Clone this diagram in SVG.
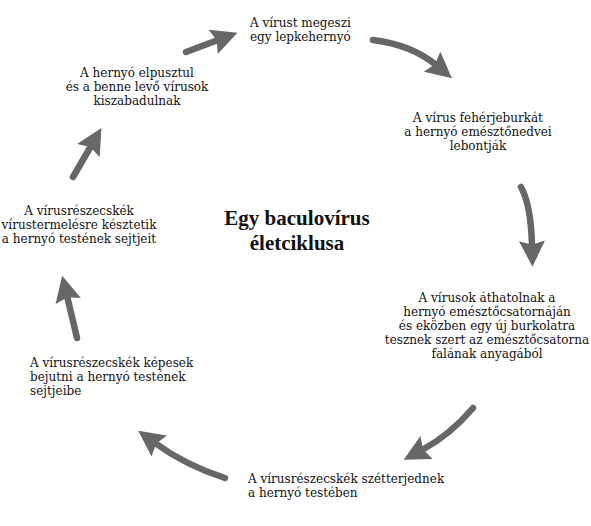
<svg xmlns="http://www.w3.org/2000/svg" width="591" height="526" viewBox="0 0 591 526">
<defs>
<marker id="ah" viewBox="0 0 10 10" refX="2" refY="5" markerWidth="4" markerHeight="4" orient="auto" markerUnits="strokeWidth">
<path d="M0,0 L10,5 L0,10 L1.5,5 z" fill="#676767"/>
</marker>
<style>
.t{font-family:"DejaVu Serif","Liberation Serif",serif;font-size:12px;fill:#111}
.c{text-anchor:middle}
.h{font-family:"Liberation Serif","DejaVu Serif",serif;font-size:21px;font-weight:bold;fill:#111;text-anchor:middle}
.a{fill:none;stroke:#676767;stroke-width:6.5;stroke-linecap:round;marker-end:url(#ah)}
</style>
</defs>
<rect width="591" height="526" fill="#fff"/>
<g id="connectors">
<path class="a" d="M186,52 L218,40"/>
<path class="a" d="M373,40 Q412,45 436,65"/>
<path class="a" d="M521,187 Q531,205 532,246"/>
<path class="a" d="M473,408 Q450,435 422,450"/>
<path class="a" d="M225,478 Q185,465 155,443"/>
<path class="a" d="M77,338 L67,296"/>
<path class="a" d="M73,177 L91,146"/>
</g>
<g id="title"><text class="h" x="297" y="225">Egy baculovírus</text><text class="h" x="297" y="250">életciklusa</text></g>
<g id="n1"><text class="t" x="250" y="27">A vírust megeszi</text><text class="t" x="250" y="41">egy lepkehernyó</text></g>
<g id="n2"><text class="t c" x="478" y="122">A vírus fehérjeburkát</text><text class="t c" x="478" y="136">a hernyó emésztőnedvei</text><text class="t c" x="478" y="150">lebontják</text></g>
<g id="n3"><text class="t c" x="487" y="302">A vírusok áthatolnak a</text><text class="t c" x="487" y="316">hernyó emésztőcsatornáján</text><text class="t c" x="487" y="330">és eközben egy új burkolatra</text><text class="t c" x="487" y="344">tesznek szert az emésztőcsatorna</text><text class="t c" x="487" y="358">falának anyagából</text></g>
<g id="n4"><text class="t" x="248" y="483">A vírusrészecskék szétterjednek</text><text class="t" x="248" y="497">a hernyó testében</text></g>
<g id="n5"><text class="t" x="30" y="367">A vírusrészecskék képesek</text><text class="t" x="30" y="381">bejutni a hernyó testének</text><text class="t" x="30" y="395">sejtjeibe</text></g>
<g id="n6"><text class="t c" x="79" y="215">A vírusrészecskék</text><text class="t c" x="79" y="229">vírustermelésre késztetik</text><text class="t c" x="79" y="243">a hernyó testének sejtjeit</text></g>
<g id="n7"><text class="t c" x="137" y="77">A hernyó elpusztul</text><text class="t c" x="137" y="91">és a benne levő vírusok</text><text class="t c" x="137" y="105">kiszabadulnak</text></g>
</svg>
